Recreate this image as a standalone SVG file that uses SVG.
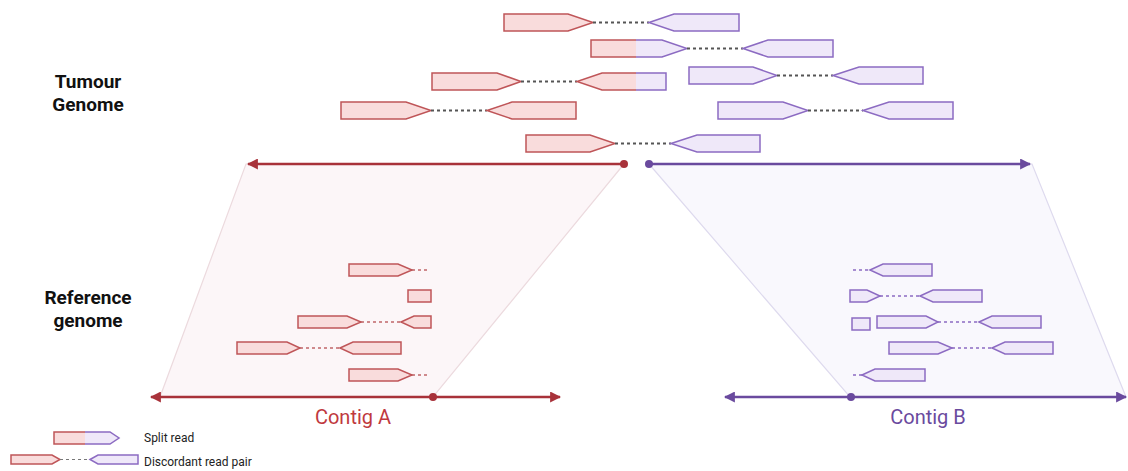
<svg xmlns="http://www.w3.org/2000/svg" width="1128" height="471" viewBox="0 0 1128 471">
  <style>
    .bg { fill: #ffffff; }
    .rf { fill: #f9dcdc; stroke: none; }
    .pf { fill: #efe8f9; stroke: none; }
    .r { fill: #f9dcdc; stroke: #bf5558; stroke-width: 1.5; stroke-linejoin: miter; }
    .p { fill: #efe8f9; stroke: #8c6bc2; stroke-width: 1.5; stroke-linejoin: miter; }
    .ro { fill: none; stroke: #bf5558; stroke-width: 1.5; }
    .po { fill: none; stroke: #8c6bc2; stroke-width: 1.5; }
    .dot { fill: none; stroke: #555555; stroke-width: 2; stroke-dasharray: 3 3; }
    .dotr { fill: none; stroke: #c0676a; stroke-width: 1.6; stroke-dasharray: 3 3; }
    .dotp { fill: none; stroke: #8c6bc2; stroke-width: 1.6; stroke-dasharray: 3 3; }
    .lr { stroke: #a8323a; stroke-width: 2.5; fill: none; }
    .lp { stroke: #6a4a9e; stroke-width: 2.5; fill: none; }
    .label { font-family: Roboto, "Liberation Sans", sans-serif; font-weight: bold; font-size: 19px; fill: #111111; text-anchor: middle; }
    .legend { font-family: Roboto, "Liberation Sans", sans-serif; font-size: 12px; fill: #222222; }
    .contig { font-family: Roboto, "Liberation Sans", sans-serif; font-size: 20px; text-anchor: middle; }
  </style>
  <defs>
    <marker id="arR" viewBox="0 0 10 10" refX="9" refY="5" markerWidth="4.4" markerHeight="4.4" orient="auto-start-reverse" markerUnits="strokeWidth">
      <path d="M0,0 L10,5 L0,10 z" fill="#a8323a"/>
    </marker>
    <marker id="arP" viewBox="0 0 10 10" refX="9" refY="5" markerWidth="4.4" markerHeight="4.4" orient="auto-start-reverse" markerUnits="strokeWidth">
      <path d="M0,0 L10,5 L0,10 z" fill="#6a4a9e"/>
    </marker>
  </defs>

  <rect class="bg" x="0" y="0" width="1128" height="471"/>

  <!-- projection bands between genome lines and contigs -->
  <g id="band-a">
    <polygon points="246,164 624,164 433,397 160,397" fill="#fcf6f8" stroke="#ecdade" stroke-width="1.2"/>
  </g>
  <g id="band-b">
    <polygon points="649,164 1032,164 1126,397 850,397" fill="#f9f8fd" stroke="#dedaee" stroke-width="1.2"/>
  </g>

  <!-- axis labels -->
  <g id="label-tumour">
    <text class="label" x="88" y="88">Tumour</text>
    <text class="label" x="88" y="111">Genome</text>
  </g>
  <g id="label-reference">
    <text class="label" x="88" y="304">Reference</text>
    <text class="label" x="88" y="327">genome</text>
  </g>

  <!-- tumour genome read pairs -->
  <g id="tumour-pair-1">
    <polygon class="r" points="504,14 568,14 593,22.5 568,31 504,31"/>
    <line class="dot" x1="593" y1="22.5" x2="649" y2="22.5"/>
    <polygon class="p" points="649,22.5 674,14 739,14 739,31 674,31"/>
  </g>
  <g id="tumour-pair-2">
    <rect class="rf" x="591" y="40" width="45" height="17"/>
    <polygon class="pf" points="636,40 662,40 687,48.5 662,57 636,57"/>
    <polyline class="ro" points="636,40 591,40 591,57 636,57"/>
    <polyline class="po" points="636,40 662,40 687,48.5 662,57 636,57"/>
    <line class="dot" x1="687" y1="48.5" x2="743" y2="48.5"/>
    <polygon class="p" points="743,48.5 768,40 833,40 833,57 768,57"/>
  </g>
  <g id="tumour-pair-3">
    <polygon class="r" points="432,73 497,73 521,81.5 497,90 432,90"/>
    <line class="dot" x1="521" y1="81.5" x2="577" y2="81.5"/>
    <polygon class="rf" points="577,81.5 602,73 636,73 636,90 602,90"/>
    <rect class="pf" x="636" y="73" width="30" height="17"/>
    <polyline class="ro" points="636,73 602,73 577,81.5 602,90 636,90"/>
    <polyline class="po" points="636,73 666,73 666,90 636,90"/>
  </g>
  <g id="tumour-pair-4">
    <polygon class="p" points="689,67 753,67 777,75.5 753,84 689,84"/>
    <line class="dot" x1="777" y1="75.5" x2="833" y2="75.5"/>
    <polygon class="p" points="833,75.5 859,67 923,67 923,84 859,84"/>
  </g>
  <g id="tumour-pair-5">
    <polygon class="r" points="341,102 406,102 431,110.5 406,119 341,119"/>
    <line class="dot" x1="431" y1="110.5" x2="487" y2="110.5"/>
    <polygon class="r" points="487,110.5 512,102 576,102 576,119 512,119"/>
  </g>
  <g id="tumour-pair-6">
    <polygon class="p" points="718,102 783,102 808,110.5 783,119 718,119"/>
    <line class="dot" x1="808" y1="110.5" x2="863" y2="110.5"/>
    <polygon class="p" points="863,110.5 889,102 953,102 953,119 889,119"/>
  </g>
  <g id="tumour-pair-7">
    <polygon class="r" points="526,135 590,135 615,143.5 590,152 526,152"/>
    <line class="dot" x1="615" y1="143.5" x2="671" y2="143.5"/>
    <polygon class="p" points="671,143.5 697,135 760,135 760,152 697,152"/>
  </g>

  <!-- genome and contig axes -->
  <g id="connectors">
    <line class="lr" x1="624" y1="164" x2="248" y2="164" marker-end="url(#arR)"/>
    <circle cx="624" cy="164" r="4" fill="#a8323a"/>
    <line class="lp" x1="649" y1="164" x2="1030" y2="164" marker-end="url(#arP)"/>
    <circle cx="649" cy="164" r="4" fill="#6a4a9e"/>
    <line class="lr" x1="151" y1="397" x2="560" y2="397" marker-start="url(#arR)" marker-end="url(#arR)"/>
    <circle cx="433" cy="397" r="4" fill="#a8323a"/>
    <line class="lp" x1="725" y1="397" x2="1126" y2="397" marker-start="url(#arP)" marker-end="url(#arP)"/>
    <circle cx="851" cy="397" r="4" fill="#6a4a9e"/>
  </g>

  <!-- reads mapped to contig A -->
  <g id="contig-a-reads">
    <polygon class="r" points="349,264 398,264 412,270 398,276 349,276"/>
    <line class="dotr" x1="412" y1="270" x2="428" y2="270"/>
    <rect class="r" x="408" y="290" width="23" height="12"/>
    <polygon class="r" points="298,316 347,316 361,322 347,328 298,328"/>
    <line class="dotr" x1="361" y1="322" x2="401" y2="322"/>
    <polygon class="r" points="401,322 414,316 431,316 431,328 414,328"/>
    <polygon class="r" points="237,342 287,342 300,348 287,354 237,354"/>
    <line class="dotr" x1="300" y1="348" x2="340" y2="348"/>
    <polygon class="r" points="340,348 353,342 401,342 401,354 353,354"/>
    <polygon class="r" points="349,369 398,369 412,375 398,381 349,381"/>
    <line class="dotr" x1="412" y1="375" x2="428" y2="375"/>
  </g>

  <!-- reads mapped to contig B -->
  <g id="contig-b-reads">
    <line class="dotp" x1="853" y1="270" x2="870" y2="270"/>
    <polygon class="p" points="870,270 883,264 932,264 932,276 883,276"/>
    <polygon class="p" points="850,290 867,290 880,296 867,302 850,302"/>
    <line class="dotp" x1="880" y1="296" x2="920" y2="296"/>
    <polygon class="p" points="920,296 933,290 982,290 982,302 933,302"/>
    <rect class="p" x="852" y="318" width="18" height="12"/>
    <polygon class="p" points="877,316 926,316 938,322 926,328 877,328"/>
    <line class="dotp" x1="938" y1="322" x2="979" y2="322"/>
    <polygon class="p" points="979,322 992,316 1041,316 1041,328 992,328"/>
    <polygon class="p" points="889,342 938,342 952,348 938,354 889,354"/>
    <line class="dotp" x1="952" y1="348" x2="992" y2="348"/>
    <polygon class="p" points="992,348 1005,342 1053,342 1053,354 1005,354"/>
    <line class="dotp" x1="853" y1="375" x2="862" y2="375"/>
    <polygon class="p" points="862,375 875,369 925,369 925,381 875,381"/>
  </g>

  <!-- contig captions -->
  <g id="caption-a">
    <text class="contig" x="353" y="424" fill="#c0393e">Contig A</text>
  </g>
  <g id="caption-b">
    <text class="contig" x="928" y="424" fill="#6a4a9e">Contig B</text>
  </g>

  <!-- legend -->
  <g id="legend-split">
    <rect class="rf" x="54" y="432" width="31" height="12"/>
    <polygon class="pf" points="85,432 110,432 119,438 110,444 85,444"/>
    <polyline class="ro" points="85,432 54,432 54,444 85,444"/>
    <polyline class="po" points="85,432 110,432 119,438 110,444 85,444"/>
    <text class="legend" x="144" y="442">Split read</text>
  </g>
  <g id="legend-discordant">
    <polygon class="r" points="11,455 52,455 60,459.5 52,464 11,464"/>
    <line x1="60" y1="459.5" x2="90" y2="459.5" stroke="#777777" stroke-width="1.2" stroke-dasharray="3 3"/>
    <polygon class="p" points="90,459.5 98,455 138,455 138,464 98,464"/>
    <text class="legend" x="144" y="466">Discordant read pair</text>
  </g>
</svg>
